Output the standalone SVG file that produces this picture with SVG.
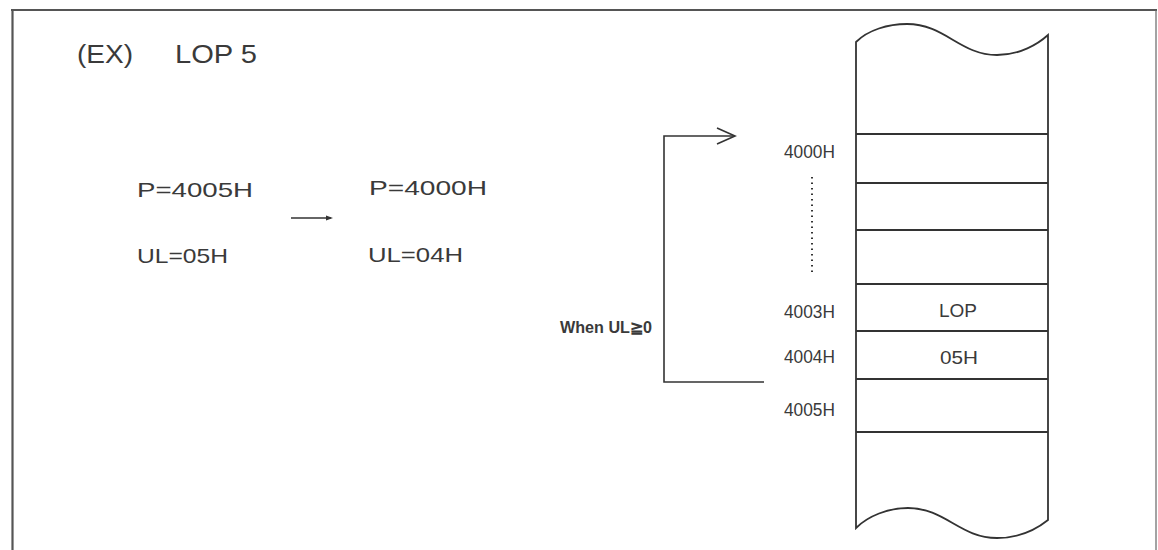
<svg xmlns="http://www.w3.org/2000/svg" width="1158" height="550" viewBox="0 0 1158 550">
<style>
.t{font-family:"Liberation Sans",Arial,sans-serif;fill:#3a3a3a}
.ln{stroke:#333;stroke-width:1.6;fill:none}
.cell{stroke:#333;stroke-width:1.8}
</style>
<rect width="1158" height="550" fill="#ffffff"/>
<g id="frame">
<line x1="11" y1="10" x2="1157" y2="10" stroke="#555" stroke-width="2.2"/>
<line x1="12.5" y1="10" x2="12.5" y2="550" stroke="#555" stroke-width="2.2"/>
<line x1="1156" y1="10" x2="1156" y2="550" stroke="#666" stroke-width="1.2"/>
</g>
<g id="title">
<text class="t" x="77" y="63" font-size="25" textLength="56" lengthAdjust="spacingAndGlyphs">(EX)</text>
<text class="t" x="175" y="63" font-size="25" textLength="82" lengthAdjust="spacingAndGlyphs">LOP 5</text>
</g>
<g id="before">
<text class="t" x="137" y="197" font-size="21" textLength="116" lengthAdjust="spacingAndGlyphs">P=4005H</text>
<text class="t" x="137" y="263" font-size="21" textLength="91" lengthAdjust="spacingAndGlyphs">UL=05H</text>
</g>
<g id="after">
<text class="t" x="369" y="195" font-size="21" textLength="118" lengthAdjust="spacingAndGlyphs">P=4000H</text>
<text class="t" x="368" y="262" font-size="21" textLength="95" lengthAdjust="spacingAndGlyphs">UL=04H</text>
</g>
<g id="connectors">
<line class="ln" x1="291" y1="218" x2="331" y2="218" stroke-width="1.2"/>
<path d="M326,215.5 L333,218 L326,220.5 Z" fill="#333"/>
<polyline class="ln" points="764,382 664,382 664,136 734,136"/>
<polyline class="ln" points="717,128 735,136 717,144" stroke-width="2"/>
<line x1="812" y1="177" x2="812" y2="274" stroke="#333" stroke-width="2" stroke-dasharray="1.5,4"/>
</g>
<g id="condition">
<text class="t" x="560" y="333" font-size="16" font-weight="bold" fill="#444" textLength="92" lengthAdjust="spacingAndGlyphs">When UL≧0</text>
</g>
<g id="memory">
<path d="M856,528 L856,42 C868,30 888,24 907,24 C945,24 960,55 997,55 C1020,55 1038,44 1048,35 L1048,520 C1038,528 1020,538 997,538 C960,538 945,508 908,508 C888,508 868,516 856,528 Z" fill="#fff" stroke="#333" stroke-width="1.8"/>
<line class="cell" x1="856" y1="134" x2="1048" y2="134"/>
<line class="cell" x1="856" y1="183" x2="1048" y2="183"/>
<line class="cell" x1="856" y1="230" x2="1048" y2="230"/>
<line class="cell" x1="856" y1="284" x2="1048" y2="284"/>
<line class="cell" x1="856" y1="331" x2="1048" y2="331"/>
<line class="cell" x1="856" y1="379" x2="1048" y2="379"/>
<line class="cell" x1="856" y1="432" x2="1048" y2="432"/>
<text class="t" x="939" y="317" font-size="19" textLength="38" lengthAdjust="spacingAndGlyphs">LOP</text>
<text class="t" x="940" y="364" font-size="19" textLength="38" lengthAdjust="spacingAndGlyphs">05H</text>
</g>
<g id="addresses">
<text class="t" x="784" y="158" font-size="18" textLength="51" lengthAdjust="spacingAndGlyphs">4000H</text>
<text class="t" x="784" y="318" font-size="18" textLength="51" lengthAdjust="spacingAndGlyphs">4003H</text>
<text class="t" x="784" y="363" font-size="18" textLength="51" lengthAdjust="spacingAndGlyphs">4004H</text>
<text class="t" x="784" y="416" font-size="18" textLength="51" lengthAdjust="spacingAndGlyphs">4005H</text>
</g>
</svg>
